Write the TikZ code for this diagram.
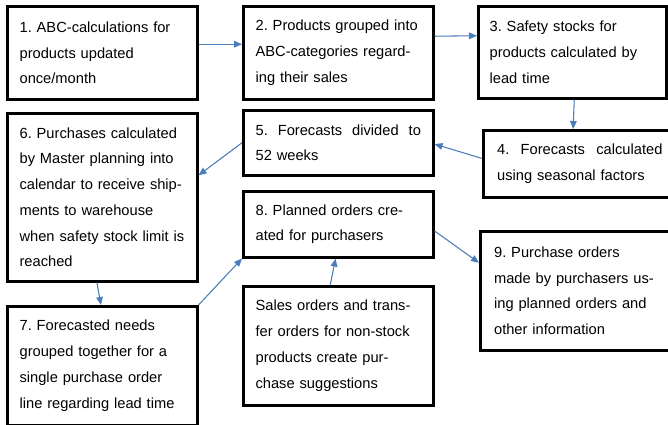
\documentclass[tikz,border=0pt]{standalone}
\usepackage{fontspec}
\setmainfont{Liberation Sans}
\frenchspacing
\usetikzlibrary{arrows.meta}
\definecolor{flowblue}{RGB}{74, 126, 187}
\tikzset{
  stage/.style={draw, line width=1.9pt, anchor=north west, minimum width=142.5pt,
    text width=124pt, align=left, font=\fontsize{11pt}{19.3pt}\selectfont},
  flow/.style={flowblue, line width=0.8pt, -{Triangle[length=6pt, width=5pt]}}
}

\begin{document}
\begin{tikzpicture}[x=1pt, y=-1pt]

  % page frame
  \useasboundingbox (0,0) rectangle (501,318.75);

  % top row
  \node[stage, minimum height=69.75pt] (abc) at (4.5,3.75)
    {1. ABC-calculations for\\products updated\\once/month};
  \node[stage, minimum height=69.75pt] (groups) at (181.5,3.75)
    {2. Products grouped into\\ABC-categories regard-\\ing their sales};
  \node[stage, minimum width=141pt, minimum height=69pt] (safety) at (357.75,3.75)
    {3. Safety stocks for\\products calculated by\\lead time};

  % middle row
  \node[stage, minimum width=144.75pt, minimum height=50.25pt] (seasonal) at (361.5,96.75)
    {4.\hfill Forecasts\hfill calculated\\using seasonal factors};
  \node[stage, minimum height=48.75pt] (weeks) at (181.5,81.75)
    {5.\hfill Forecasts\hfill divided\hfill to\\52 weeks};
  \node[stage, minimum height=126pt] (purchases) at (4.5,84)
    {6. Purchases calculated\\by Master planning into\\calendar to receive ship-\\ments to warehouse\\when safety stock limit is\\reached};

  % bottom rows
  \node[stage, minimum height=49.5pt] (planned) at (181.5,142.5)
    {8. Planned orders cre-\\ated for purchasers};
  \node[stage, minimum height=89.25pt] (needs) at (4.5,228.75)
    {7. Forecasted needs\\grouped together for a\\single purchase order\\line regarding lead time};
  \node[stage, minimum height=89.25pt] (sales) at (181.5,213.75)
    {Sales orders and trans-\\fer orders for non-stock\\products create pur-\\chase suggestions};
  \node[stage, minimum width=144.75pt, minimum height=89.25pt] (orders) at (359.25,172.5)
    {9. Purchase orders\\made by purchasers us-\\ing planned orders and\\other information};

  % connectors
  \draw[flow] ([yshift=6.4pt]abc.east) -- ([yshift=6.4pt]groups.west);
  \draw[flow] ([yshift=12.4pt]groups.east) -- ([yshift=12.4pt]safety.west);
  \draw[flow] ([xshift=1.5pt]safety.south) -- ([xshift=-5pt]seasonal.north);
  \draw[flow] ([yshift=4pt]seasonal.west) -- ([yshift=-1pt]weeks.east);
  \draw[flow] (weeks.west) -- ([yshift=16.5pt]purchases.east);
  \draw[flow] ([xshift=-4pt]purchases.south) -- ([xshift=-1pt]needs.north);
  \draw[flow] (needs.north east) -- (planned.south west);
  \draw[flow] ([xshift=-6pt]sales.north) -- ([xshift=-2pt]planned.south);
  \draw[flow] ([yshift=-5pt]planned.east) -- ([yshift=21pt]orders.west);

\end{tikzpicture}
\end{document}
